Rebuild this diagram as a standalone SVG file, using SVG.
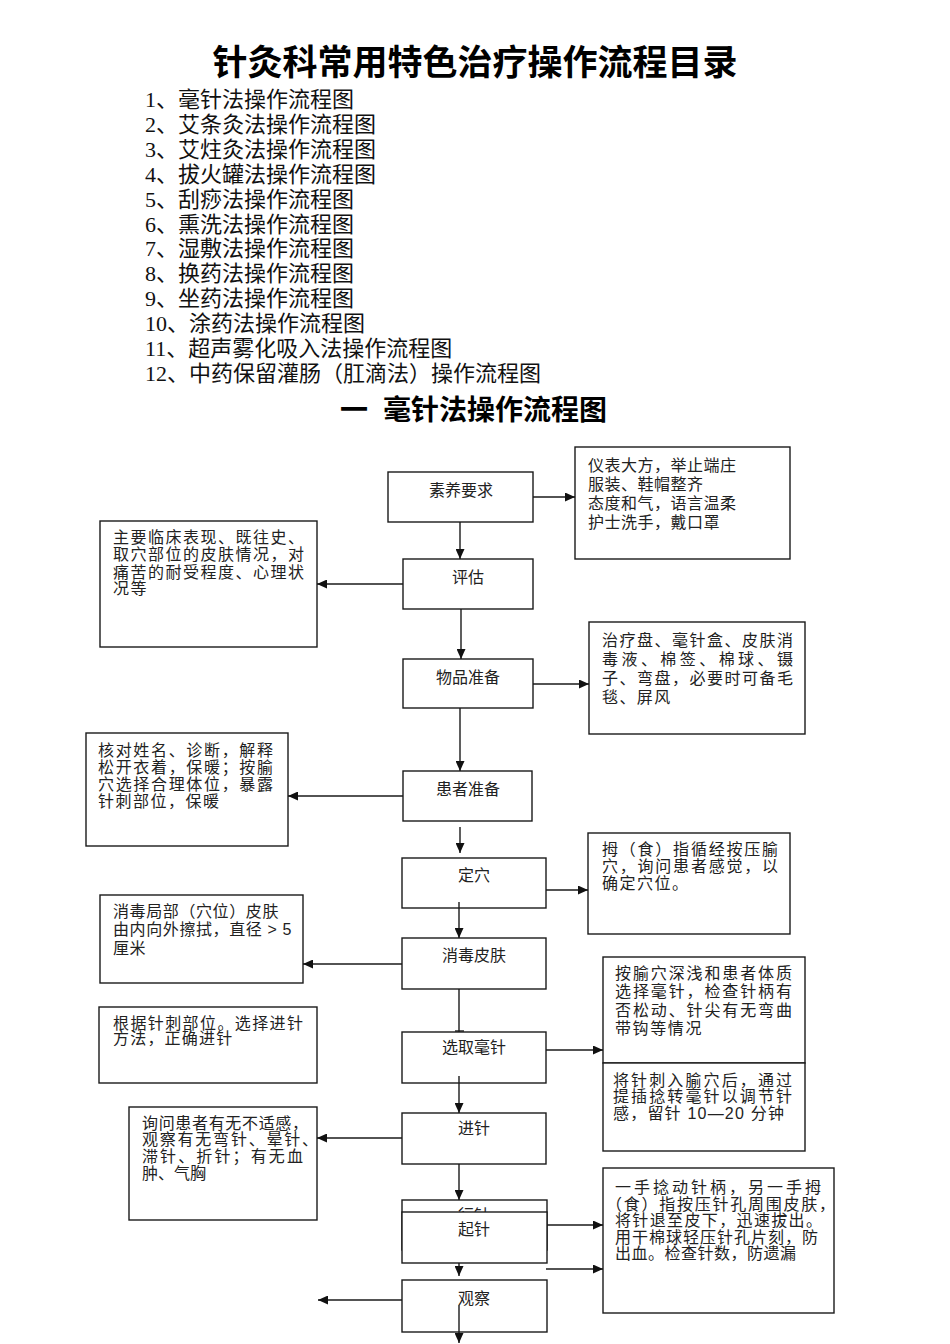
<svg xmlns="http://www.w3.org/2000/svg" width="950" height="1344" viewBox="0 0 950 1344">
<style>
.bg{fill:#fff}
.box{fill:#fff;stroke:#1a1a1a;stroke-width:1.4}
.h1{font-family:"Liberation Sans","Noto Sans CJK SC",sans-serif;font-weight:bold;font-size:35px;fill:#000}
.h2{font-family:"Liberation Sans","Noto Sans CJK SC",sans-serif;font-weight:bold;font-size:28px;fill:#000}
.li{font-family:"Liberation Serif","Noto Sans CJK SC",serif;font-size:22px;fill:#111}
.t{font-family:"Liberation Sans","Noto Sans CJK SC",sans-serif;font-size:16px;fill:#222}
.m{text-anchor:middle}
.c line{stroke:#1a1a1a;stroke-width:1.4;fill:none}
</style>
<defs>
<marker id="ar" markerUnits="userSpaceOnUse" markerWidth="11" markerHeight="9" refX="10" refY="4.5" orient="auto">
<path d="M0,0 L10,4.5 L0,9 z" fill="#111"/>
</marker>
</defs>
<rect class="bg" x="0" y="0" width="950" height="1344"/>

<g id="title">
<text class="h1" x="475" y="75" text-anchor="middle">针灸科常用特色治疗操作流程目录</text>
</g>
<g id="toc">
<text class="li" x="145" y="107">1、毫针法操作流程图</text>
<text class="li" x="145" y="132">2、艾条灸法操作流程图</text>
<text class="li" x="145" y="157">3、艾炷灸法操作流程图</text>
<text class="li" x="145" y="182">4、拔火罐法操作流程图</text>
<text class="li" x="145" y="207">5、刮痧法操作流程图</text>
<text class="li" x="145" y="232">6、熏洗法操作流程图</text>
<text class="li" x="145" y="256">7、湿敷法操作流程图</text>
<text class="li" x="145" y="281">8、换药法操作流程图</text>
<text class="li" x="145" y="306">9、坐药法操作流程图</text>
<text class="li" x="145" y="331">10、涂药法操作流程图</text>
<text class="li" x="145" y="356">11、超声雾化吸入法操作流程图</text>
<text class="li" x="145" y="381">12、中药保留灌肠（肛滴法）操作流程图</text>
</g>
<g id="section">
<text class="h2" x="340" y="420">一</text>
<text class="h2" x="383" y="420">毫针法操作流程图</text>
</g>

<g id="n-suyang"><rect class="box" x="388" y="472" width="145" height="50"/><text class="t m" x="461" y="496">素养要求</text></g>
<g id="n-pinggu"><rect class="box" x="403" y="559" width="130" height="50"/><text class="t m" x="468" y="583">评估</text></g>
<g id="n-wupin"><rect class="box" x="403" y="659" width="130" height="49"/><text class="t m" x="468" y="683">物品准备</text></g>
<g id="n-huanzhe"><rect class="box" x="403" y="771" width="129" height="50"/><text class="t m" x="468" y="795">患者准备</text></g>
<g id="n-dingxue"><rect class="box" x="402" y="858" width="144" height="50"/><text class="t m" x="474" y="881">定穴</text></g>
<g id="n-xiaodu"><rect class="box" x="402" y="938" width="144" height="51"/><text class="t m" x="474" y="961">消毒皮肤</text></g>
<g id="n-xuanqu"><rect class="box" x="402" y="1032" width="144" height="51"/><text class="t m" x="474" y="1053">选取毫针</text></g>
<g id="n-jinzhen"><rect class="box" x="402" y="1113" width="144" height="51"/><text class="t m" x="474" y="1134">进针</text></g>
<g id="n-xingzhen"><rect class="box" x="402" y="1200" width="145" height="50"/><text class="t m" x="474" y="1221">行针</text></g>
<g id="n-qizhen"><rect class="box" x="402" y="1212" width="145" height="51"/><text class="t m" x="474" y="1235">起针</text></g>
<g id="n-guancha"><rect class="box" x="402" y="1280" width="145" height="52"/><text class="t m" x="474" y="1304">观察</text></g>

<g id="d-suyang">
<rect class="box" x="575" y="447" width="215" height="112"/>
<text class="t" x="588" y="471" letter-spacing="0.5">仪表大方，举止端庄</text>
<text class="t" x="588" y="490" letter-spacing="0.5">服装、鞋帽整齐</text>
<text class="t" x="588" y="509" letter-spacing="0.5">态度和气，语言温柔</text>
<text class="t" x="588" y="528" letter-spacing="0.5">护士洗手，戴口罩</text>
</g>
<g id="d-pinggu">
<rect class="box" x="100" y="521" width="217" height="126"/>
<text class="t" x="113" y="543" textLength="191" lengthAdjust="spacing">主要临床表现、既往史、</text>
<text class="t" x="113" y="560" textLength="191" lengthAdjust="spacing">取穴部位的皮肤情况，对</text>
<text class="t" x="113" y="578" textLength="191" lengthAdjust="spacing">痛苦的耐受程度、心理状</text>
<text class="t" x="113" y="594" letter-spacing="1.4">况等</text>
</g>
<g id="d-wupin">
<rect class="box" x="589" y="622" width="216" height="112"/>
<text class="t" x="602" y="646" textLength="191" lengthAdjust="spacing">治疗盘、毫针盒、皮肤消</text>
<text class="t" x="602" y="665" textLength="191" lengthAdjust="spacing">毒液、棉签、棉球、镊</text>
<text class="t" x="602" y="684" textLength="191" lengthAdjust="spacing">子、弯盘，必要时可备毛</text>
<text class="t" x="602" y="703" letter-spacing="1.4">毯、屏风</text>
</g>
<g id="d-huanzhe">
<rect class="box" x="86" y="733" width="202" height="113"/>
<text class="t" x="98" y="756" textLength="175" lengthAdjust="spacing">核对姓名、诊断，解释</text>
<text class="t" x="98" y="773" textLength="175" lengthAdjust="spacing">松开衣着，保暖；按腧</text>
<text class="t" x="98" y="790" textLength="175" lengthAdjust="spacing">穴选择合理体位，暴露</text>
<text class="t" x="98" y="807" letter-spacing="1.5">针刺部位，保暖</text>
</g>
<g id="d-dingxue">
<rect class="box" x="588" y="833" width="202" height="101"/>
<text class="t" x="602" y="855" textLength="176" lengthAdjust="spacing">拇（食）指循经按压腧</text>
<text class="t" x="602" y="872" textLength="176" lengthAdjust="spacing">穴，询问患者感觉，以</text>
<text class="t" x="602" y="889" letter-spacing="1.5">确定穴位。</text>
</g>
<g id="d-xiaodu">
<rect class="box" x="100" y="895" width="203" height="88"/>
<text class="t" x="113" y="917" letter-spacing="0.6">消毒局部（穴位）皮肤</text>
<text class="t" x="113" y="935" letter-spacing="0.6">由内向外擦拭，直径 &gt; 5</text>
<text class="t" x="113" y="954" letter-spacing="0.6">厘米</text>
</g>
<g id="d-jinzhenfa">
<rect class="box" x="99" y="1007" width="218" height="76"/>
<text class="t" x="113" y="1029" textLength="190" lengthAdjust="spacing">根据针刺部位。选择进针</text>
<text class="t" x="113" y="1044" letter-spacing="1.2">方法，正确进针</text>
</g>
<g id="d-xuanqu">
<rect class="box" x="603" y="957" width="202" height="106"/>
<text class="t" x="615" y="979" textLength="177" lengthAdjust="spacing">按腧穴深浅和患者体质</text>
<text class="t" x="615" y="997" textLength="177" lengthAdjust="spacing">选择毫针，检查针柄有</text>
<text class="t" x="615" y="1016" textLength="177" lengthAdjust="spacing">否松动、针尖有无弯曲</text>
<text class="t" x="615" y="1034" letter-spacing="1.6">带钩等情况</text>
</g>
<g id="d-liuzhen">
<rect class="box" x="603" y="1063" width="202" height="88"/>
<text class="t" x="613" y="1086" textLength="179" lengthAdjust="spacing">将针刺入腧穴后，通过</text>
<text class="t" x="613" y="1102" textLength="179" lengthAdjust="spacing">提插捻转毫针以调节针</text>
<text class="t" x="613" y="1119" letter-spacing="1.2">感，留针 10—20 分钟</text>
</g>
<g id="d-jinzhen">
<rect class="box" x="129" y="1107" width="188" height="113"/>
<text class="t" x="142" y="1129" textLength="166" lengthAdjust="spacing">询问患者有无不适感，</text>
<text class="t" x="142" y="1145" textLength="176" lengthAdjust="spacing">观察有无弯针、晕针、</text>
<text class="t" x="142" y="1162" textLength="161" lengthAdjust="spacing">滞针、折针；有无血</text>
<text class="t" x="142" y="1179">肿、气胸</text>
</g>
<g id="d-qizhen">
<rect class="box" x="603" y="1168" width="231" height="145"/>
<text class="t" x="615" y="1193" textLength="206" lengthAdjust="spacing">一手捻动针柄，另一手拇</text>
<text class="t" x="606" y="1209.5" textLength="229" lengthAdjust="spacing">（食）指按压针孔周围皮肤，</text>
<text class="t" x="615" y="1226" textLength="207" lengthAdjust="spacing">将针退至皮下，迅速拔出。</text>
<text class="t" x="615" y="1242.5" textLength="203" lengthAdjust="spacing">用干棉球轻压针孔片刻，防</text>
<text class="t" x="615" y="1259" letter-spacing="0.5">出血。检查针数，防遗漏</text>
</g>

<g id="connectors" class="c">
<line x1="533" y1="497" x2="575" y2="497" marker-end="url(#ar)"/>
<line x1="460" y1="522" x2="460" y2="559" marker-end="url(#ar)"/>
<line x1="403" y1="584" x2="317" y2="584" marker-end="url(#ar)"/>
<line x1="461" y1="609" x2="461" y2="659" marker-end="url(#ar)"/>
<line x1="533" y1="684" x2="589" y2="684" marker-end="url(#ar)"/>
<line x1="460" y1="708" x2="460" y2="771" marker-end="url(#ar)"/>
<line x1="403" y1="796" x2="288" y2="796" marker-end="url(#ar)"/>
<line x1="460" y1="827" x2="460" y2="853" marker-end="url(#ar)"/>
<line x1="546" y1="890" x2="588" y2="890" marker-end="url(#ar)"/>
<line x1="459" y1="902" x2="459" y2="938" marker-end="url(#ar)"/>
<line x1="402" y1="964" x2="303" y2="964" marker-end="url(#ar)"/>
<line x1="459" y1="989" x2="459" y2="1032"/>
<line x1="455" y1="1031" x2="464" y2="1031"/>
<line x1="546" y1="1050" x2="603" y2="1050" marker-end="url(#ar)"/>
<line x1="459" y1="1076" x2="459" y2="1113" marker-end="url(#ar)"/>
<line x1="402" y1="1138" x2="317" y2="1138" marker-end="url(#ar)"/>
<line x1="459" y1="1164" x2="459" y2="1200" marker-end="url(#ar)"/>
<line x1="547" y1="1225" x2="603" y2="1225" marker-end="url(#ar)"/>
<line x1="546" y1="1269" x2="603" y2="1269" marker-end="url(#ar)"/>
<line x1="459" y1="1263" x2="459" y2="1276" marker-end="url(#ar)"/>
<line x1="402" y1="1300" x2="318" y2="1300" marker-end="url(#ar)"/>
<line x1="459" y1="1305" x2="459" y2="1343" marker-end="url(#ar)"/>
</g>
</svg>
